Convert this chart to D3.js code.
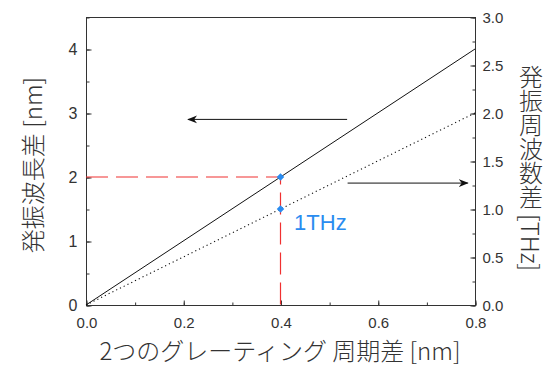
<!DOCTYPE html>
<html>
<head>
<meta charset="utf-8">
<script src="https://cdn.jsdelivr.net/npm/d3@7"></script>
<style>
  body { margin: 0; background: #fff; }
  svg { display: block; }
  .tick text { font-family: "Liberation Sans", Arial, sans-serif; fill: #333; }
  .title { font-family: "Noto Sans CJK JP", sans-serif; fill: #333; font-size: 24px; font-weight: 300; }
</style>
</head>
<body>
<svg id="chart" width="555" height="375"></svg>
<script>

// grating period difference [nm]
var periodDiff = [0, 0.4, 0.8];
// oscillation wavelength difference [nm]
var wavelengthDiff = [0, 2.0, 4.0];
// oscillation frequency difference [THz]
var freqDiff = [0, 1.0, 2.0];

var xTicks = [0, 0.2, 0.4, 0.6, 0.8];
var yLeftTicks = [0, 1, 2, 3, 4];
var yRightTicks = [0, 0.5, 1.0, 1.5, 2.0, 2.5, 3.0];

// marked point at 0.4 nm
var markX = 0.4, markNm = 2.0, markTHz = 1.0;

var margin = {left: 86, right: 80, top: 17, bottom: 70};
var W = 555, H = 375;

var svg = d3.select('#chart');

var x = d3.scaleLinear().domain([0, 0.8]).range([margin.left, W - margin.right]);
var yL = d3.scaleLinear().domain([0, 4.5]).range([H - margin.bottom, margin.top]);
var yR = d3.scaleLinear().domain([0, 3.0]).range([H - margin.bottom, margin.top]);

var x0 = x.range()[0], x1 = x.range()[1];
var yb = yL.range()[0], yt = yL.range()[1];

// frame
svg.append('rect')
    .attr('x', x0 + 0.5).attr('y', yt + 0.5)
    .attr('width', x1 - x0).attr('height', yb - yt)
    .attr('fill', 'none').attr('stroke', '#333').attr('stroke-width', 1);

// axes (ticks inward)
function styleAxis(g) {
    g.select('.domain').remove();
    g.selectAll('.tick line').attr('stroke', '#333');
}
function minorOnly(g) {
    styleAxis(g);
    g.selectAll('.tick text').remove();
}

svg.append('g').attr('transform', 'translate(0.5,' + (yb + 0.5) + ')')
    .call(d3.axisBottom(x).tickValues(d3.range(0, 0.81, 0.1)).tickSize(-3))
    .call(minorOnly);
var gx2 = svg.append('g').attr('transform', 'translate(0.5,' + (yb + 0.5) + ')');
gx2.call(d3.axisBottom(x).tickValues(xTicks).tickSize(-5).tickPadding(12).tickFormat(d3.format('.1f')));
gx2.call(styleAxis);
gx2.selectAll('text').attr('font-size', 15);

svg.append('g').attr('transform', 'translate(' + (x0 + 0.5) + ',0.5)')
    .call(d3.axisLeft(yL).tickValues(d3.range(0, 4.51, 0.5)).tickSize(-3))
    .call(minorOnly);
var gl2 = svg.append('g').attr('transform', 'translate(' + (x0 + 0.5) + ',0.5)');
gl2.call(d3.axisLeft(yL).tickValues(yLeftTicks).tickSize(-5).tickPadding(9).tickFormat(d3.format('d')));
gl2.call(styleAxis);
gl2.selectAll('text').attr('font-size', 16);

svg.append('g').attr('transform', 'translate(' + (x1 + 0.5) + ',0.5)')
    .call(d3.axisRight(yR).tickValues(d3.range(0, 3.01, 0.25)).tickSize(-3))
    .call(minorOnly);
var gr2 = svg.append('g').attr('transform', 'translate(' + (x1 + 0.5) + ',0.5)');
gr2.call(d3.axisRight(yR).tickValues(yRightTicks).tickSize(-5).tickPadding(7).tickFormat(d3.format('.1f')));
gr2.call(styleAxis);
gr2.selectAll('text').attr('font-size', 15);

// red dashed guides
svg.append('path')
    .attr('d', d3.line()([[x(0), yL(markNm)], [x(markX), yL(markNm)], [x(markX), yb]]))
    .attr('fill', 'none').attr('stroke', '#f03030').attr('stroke-width', 1.2)
    .attr('stroke-dasharray', '22,8');

// lines
var lineL = d3.line().x(function(d, i) { return x(periodDiff[i]); }).y(function(d) { return yL(d); });
var lineR = d3.line().x(function(d, i) { return x(periodDiff[i]); }).y(function(d) { return yR(d); });

svg.append('path').attr('d', lineL(wavelengthDiff))
    .attr('fill', 'none').attr('stroke', '#111').attr('stroke-width', 1);
svg.append('path').attr('d', lineR(freqDiff))
    .attr('fill', 'none').attr('stroke', '#111').attr('stroke-width', 1.1)
    .attr('stroke-dasharray', '1.2,3');

// blue markers
var diamond = d3.symbol().type(d3.symbolDiamond2).size(36);
[[x(markX), yL(markNm)], [x(markX), yR(markTHz)]].forEach(function(p) {
    svg.append('path').attr('d', diamond)
        .attr('transform', 'translate(' + p[0] + ',' + p[1] + ')')
        .attr('fill', '#2a8cf0');
});

svg.append('text')
    .attr('x', x(0.428)).attr('y', yR(1.0) + 21)
    .attr('font-family', '"Liberation Sans", Arial, sans-serif')
    .attr('font-size', 22).attr('fill', '#2a8cf0')
    .text('1THz');

// arrows pointing to axes
svg.append('defs').append('marker')
    .attr('id', 'ah').attr('viewBox', '0 0 10 10')
    .attr('refX', 9).attr('refY', 5)
    .attr('markerWidth', 10).attr('markerHeight', 10)
    .attr('markerUnits', 'userSpaceOnUse')
    .attr('orient', 'auto')
    .append('path').attr('d', 'M0,1L10,5L0,9L3,5Z').attr('fill', '#111');

svg.append('line')
    .attr('x1', x(0.537)).attr('x2', x(0.210))
    .attr('y1', yL(2.9)).attr('y2', yL(2.9))
    .attr('stroke', '#111').attr('marker-end', 'url(#ah)');
svg.append('line')
    .attr('x1', x(0.538)).attr('x2', x(0.785))
    .attr('y1', yR(1.27)).attr('y2', yR(1.27))
    .attr('stroke', '#111').attr('marker-end', 'url(#ah)');

// titles
svg.append('text').attr('class', 'title')
    .attr('transform', 'translate(42,165) rotate(-90)')
    .attr('text-anchor', 'middle')
    .text('発振波長差 [nm]');

svg.append('text').attr('class', 'title')
    .attr('x', 531).attr('y', 168)
    .attr('text-anchor', 'middle')
    .style('writing-mode', 'vertical-rl')
    .text('発振周波数差 [THz]');

svg.append('text').attr('class', 'title')
    .attr('x', 280).attr('y', 360)
    .attr('text-anchor', 'middle')
    .text('2つのグレーティング 周期差 [nm]');

</script>
</body>
</html>
